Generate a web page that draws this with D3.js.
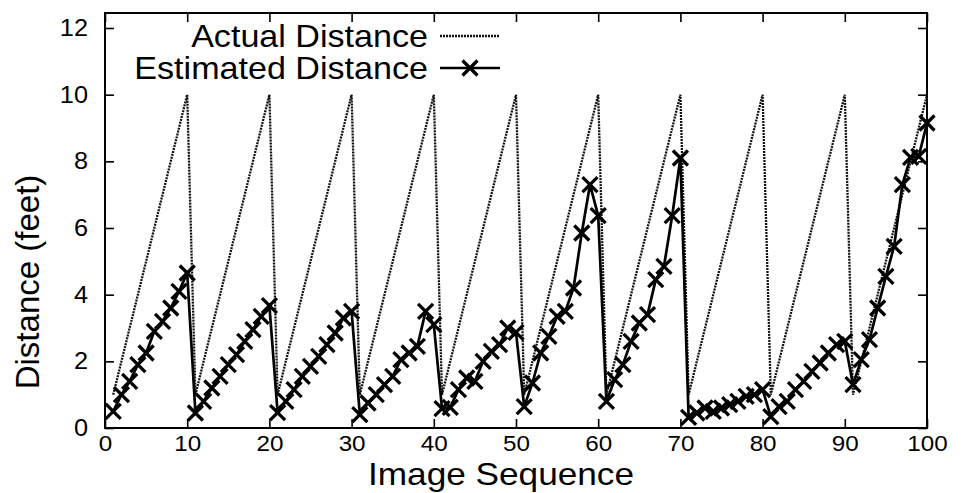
<!DOCTYPE html>
<html lang="en">
<head>
<meta charset="UTF-8">
<title>Actual vs Estimated Distance</title>
<script src="https://d3js.org/d3.v7.min.js"></script>
<style>
  body { margin: 0; background: #fff; }
  text { font-family: "Liberation Sans", Arial, Helvetica, sans-serif; fill: #000; }
</style>
</head>
<body>
<svg width="967" height="493"></svg>
<script>
// image sequence 1..100
const actual = [
  1,2,3,4,5,6,7,8,9,10, 1,2,3,4,5,6,7,8,9,10,
  1,2,3,4,5,6,7,8,9,10, 1,2,3,4,5,6,7,8,9,10,
  1,2,3,4,5,6,7,8,9,10, 1,2,3,4,5,6,7,8,9,10,
  1,2,3,4,5,6,7,8,9,10, 1,2,3,4,5,6,7,8,9,10,
  1,2,3,4,5,6,7,8,9,10, 1,2,3,4,5,6,7,8,9,10
];
const estimated = [
  0.5, 1.0, 1.4, 1.9, 2.25, 2.9, 3.2, 3.6, 4.1, 4.65,
  0.45, 0.8, 1.2, 1.55, 1.9, 2.2, 2.6, 2.95, 3.35, 3.67,
  0.46, 0.8, 1.15, 1.55, 1.85, 2.15, 2.5, 2.85, 3.3, 3.5,
  0.4, 0.75, 1.0, 1.3, 1.55, 2.05, 2.25, 2.45, 3.5, 3.1,
  0.58, 0.62, 1.15, 1.5, 1.4, 2.0, 2.3, 2.5, 3.0, 2.87,
  0.64, 1.35, 2.25, 2.75, 3.35, 3.5, 4.2, 5.85, 7.3, 6.37,
  0.8, 1.45, 1.9, 2.6, 3.15, 3.4, 4.45, 4.85, 6.37, 8.1,
  0.32, 0.45, 0.6, 0.5, 0.6, 0.7, 0.8, 0.95, 1.0, 1.15,
  0.34, 0.64, 0.8, 1.15, 1.4, 1.7, 1.95, 2.25, 2.5, 2.6,
  1.3, 2.05, 2.65, 3.6, 4.55, 5.45, 7.3, 8.12, 8.15, 9.15
];
const xTicks = [0, 10, 20, 30, 40, 50, 60, 70, 80, 90, 100];
const yTicks = [0, 2, 4, 6, 8, 10, 12];
const seriesNames = ["Actual Distance", "Estimated Distance"];

const svg = d3.select("svg");
const plotL = 105, plotR = 927, plotT = 13, plotB = 428;
const stretch = "scale(1.1,1)";

const x = d3.scaleLinear().domain([0, 100]).range([plotL, plotR]);
const y = d3.scaleLinear().domain([0, 12.45]).range([plotB, plotT]);

// axes, gnuplot style: inward ticks on all four sides
const gx = svg.append("g").attr("transform", `translate(0,${plotB})`)
  .call(d3.axisBottom(x).tickValues(xTicks).tickSize(-9).tickPadding(7));
gx.selectAll("text").style("font-size", "22px").attr("transform", stretch);

const gy = svg.append("g").attr("transform", `translate(${plotL},0)`)
  .call(d3.axisLeft(y).tickValues(yTicks).tickSize(-9).tickPadding(15.5));
gy.selectAll("text").style("font-size", "23px").attr("transform", stretch);

svg.append("g").attr("transform", `translate(0,${plotT})`)
  .call(d3.axisTop(x).tickValues(xTicks).tickSize(-9).tickFormat(""));
svg.append("g").attr("transform", `translate(${plotR},0)`)
  .call(d3.axisRight(y).tickValues(yTicks).tickSize(-9).tickFormat(""));

svg.selectAll(".domain").remove();
svg.selectAll(".tick line").attr("stroke", "#000").attr("stroke-width", 1.6);

svg.append("rect")
  .attr("x", plotL).attr("y", plotT)
  .attr("width", plotR - plotL).attr("height", plotB - plotT)
  .attr("fill", "none").attr("stroke", "#000").attr("stroke-width", 2);

// series
const line = d3.line().x((d, i) => x(i + 1)).y(d => y(d));
const cross = "M-7.5,-7.5L7.5,7.5M-7.5,7.5L7.5,-7.5";

svg.append("path").datum(actual)
  .attr("d", line)
  .attr("fill", "none").attr("stroke", "#111")
  .attr("stroke-width", 2.3).attr("stroke-dasharray", "2,1");

svg.append("path").datum(estimated)
  .attr("d", line)
  .attr("fill", "none").attr("stroke", "#000")
  .attr("stroke-width", 2.7).attr("stroke-linejoin", "round");

svg.append("g").selectAll("path").data(estimated).join("path")
  .attr("transform", (d, i) => `translate(${x(i + 1)},${y(d)})`)
  .attr("d", cross)
  .attr("stroke", "#000").attr("stroke-width", 3.3);

// legend
const lg = svg.append("g");
[36, 68].forEach((ly, k) => {
  lg.append("text")
    .attr("transform", `translate(428,${ly + 11}) ${stretch}`)
    .attr("text-anchor", "end")
    .style("font-size", "31px")
    .text(seriesNames[k]);
  const s = lg.append("line")
    .attr("x1", 440).attr("x2", 500).attr("y1", ly).attr("y2", ly);
  if (k === 0) {
    s.attr("stroke", "#111").attr("stroke-width", 2.3).attr("stroke-dasharray", "2,1");
  } else {
    s.attr("stroke", "#000").attr("stroke-width", 2.7);
    lg.append("path").attr("transform", `translate(470,${ly})`)
      .attr("d", cross).attr("stroke", "#000").attr("stroke-width", 3.3);
  }
});

// axis titles
svg.append("text")
  .attr("transform", `translate(501,485) ${stretch}`)
  .attr("text-anchor", "middle")
  .style("font-size", "32px")
  .text("Image Sequence");

svg.append("text")
  .attr("transform", "translate(39,282) rotate(-90)")
  .attr("text-anchor", "middle")
  .style("font-size", "33px")
  .text("Distance (feet)");
</script>
</body>
</html>
